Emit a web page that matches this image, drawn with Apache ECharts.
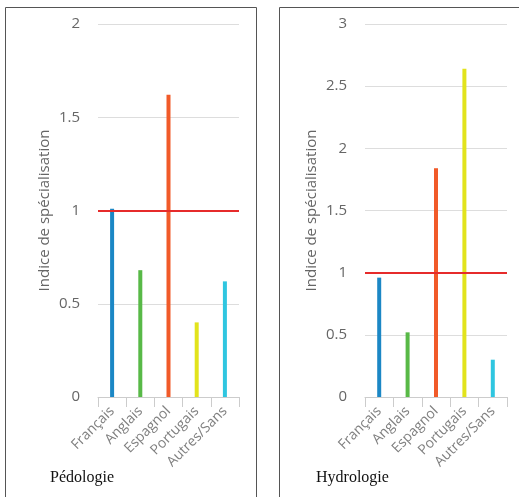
<!DOCTYPE html>
<html><head><meta charset="utf-8">
<script src="https://cdn.jsdelivr.net/npm/echarts@6/dist/echarts.min.js"></script>
<style>html,body{margin:0;padding:0;background:#fff}#c{width:519px;height:497px}</style>
</head><body><div id="c"></div>
<script>
const categories = ['Français', 'Anglais', 'Espagnol', 'Portugais', 'Autres/Sans'];
const pedologieValues = [1.01, 0.68, 1.62, 0.40, 0.62];
const hydrologieValues = [0.96, 0.52, 1.84, 2.64, 0.30];
const barColors = ['#1b87c5', '#58b947', '#f15a29', '#e2e31c', '#2fc6e0'];
const panelTitles = ['Pédologie', 'Hydrologie'];
const yName = 'Indice de spécialisation';
const yMax = [2, 3];
const refValue = 1;

const chart = echarts.init(document.getElementById('c'), null, {renderer: 'canvas'});
const labelFont = {color: '#666', fontSize: 15, fontFamily: 'Open Sans'};
function xAxis(i) {
  return {
    type: 'category', gridIndex: i, data: categories,
    axisLine: {lineStyle: {color: '#ccc'}},
    axisTick: {show: true, length: 10, lineStyle: {color: '#ccc'}},
    axisLabel: {rotate: 45, margin: 12, fontSize: 14, color: '#808080', fontFamily: 'Open Sans'}
  };
}
function yAxis(i) {
  return {
    type: 'value', gridIndex: i, min: 0, max: yMax[i], interval: 0.5,
    name: yName, nameLocation: 'middle', nameGap: 46,
    nameTextStyle: labelFont,
    axisLine: {show: false}, axisTick: {show: false},
    axisLabel: Object.assign({margin: 18}, labelFont),
    splitLine: {lineStyle: {color: '#ddd'}}
  };
}
function series(i, values) {
  return {
    type: 'bar', xAxisIndex: i, yAxisIndex: i, barWidth: 4,
    data: values.map((v, k) => ({value: v, itemStyle: {color: barColors[k]}})),
    markLine: {
      silent: true, symbol: 'none', label: {show: false},
      lineStyle: {color: '#e62b2b', width: 2, type: 'solid'},
      data: [{yAxis: refValue}]
    },
    z: 2
  };
}
chart.setOption({
  animation: false,
  title: [
    {text: panelTitles[0], left: 45, top: 465, textStyle: {fontFamily: 'Liberation Serif', fontSize: 16, fontWeight: 'normal', color: '#111'}},
    {text: panelTitles[1], left: 311, top: 465, textStyle: {fontFamily: 'Liberation Serif', fontSize: 16, fontWeight: 'normal', color: '#111'}}
  ],
  grid: [
    {left: 98, right: 280, top: 24, bottom: 100},
    {left: 365, right: 12, top: 24, bottom: 100}
  ],
  xAxis: [xAxis(0), xAxis(1)],
  yAxis: [yAxis(0), yAxis(1)],
  series: [series(0, pedologieValues), series(1, hydrologieValues)],
  graphic: [
    {type: 'rect', shape: {x: 5.5, y: 7.5, width: 251, height: 520}, style: {fill: 'none', stroke: '#555', lineWidth: 1}, silent: true},
    {type: 'rect', shape: {x: 279.5, y: 7.5, width: 260, height: 520}, style: {fill: 'none', stroke: '#555', lineWidth: 1}, silent: true}
  ]
});
</script></body></html>
